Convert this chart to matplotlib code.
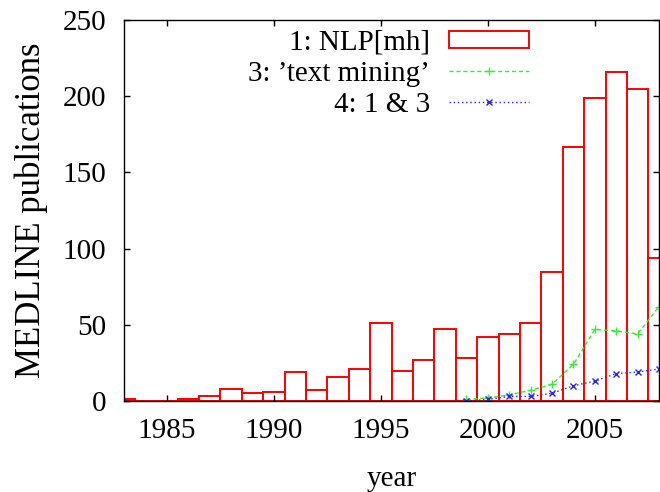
import matplotlib
matplotlib.use("Agg")
import matplotlib.pyplot as plt

years = list(range(1983, 2009))
nlp_mh = [1, 0, 0, 1, 3, 8, 5, 6, 19, 7, 16, 21, 51, 20, 27, 47, 28, 42, 44, 51,
          85, 167, 199, 216, 205, 94]

tm_years = list(range(1999, 2009))
text_mining = [1, 2, 4, 7, 11, 24, 47, 46, 44, 62]
both = [0, 1, 3, 3, 5, 10, 13, 18, 19, 21]

tick_years = [1985, 1990, 1995, 2000, 2005]
y_ticks = [0, 50, 100, 150, 200, 250]


def plot_medline():
    plt.rcParams["font.family"] = ["Liberation Serif", "DejaVu Serif"]
    plt.rcParams["font.size"] = 21

    fig = plt.figure(figsize=(6.6, 4.92), dpi=100)
    ax = fig.add_axes([0.1879, 0.185, 0.8106, 0.774])

    bars = ax.bar(years, nlp_mh, width=1.0, facecolor="white", edgecolor="red",
                  linewidth=1.4, label="1: NLP[mh]")
    tm_line, = ax.plot(tm_years, text_mining, color="#33ee33",
                       linestyle=(0, (3, 2)), linewidth=1, marker="+",
                       markersize=6, label="3: \u2019text mining\u2019")
    both_line, = ax.plot(tm_years, both, color="#2222ff",
                         linestyle=(0, (1, 2)), linewidth=1, marker="x",
                         markersize=5, label="4: 1 & 3")

    ax.set_xlim(1983, 2008)
    ax.set_ylim(0, 250)
    ax.set_xticks(tick_years)
    ax.set_yticks(y_ticks)
    ax.tick_params(direction="in", top=True, right=True, length=4, width=1)
    ax.tick_params(axis="x", pad=12)
    ax.tick_params(axis="y", pad=13)
    for s in ax.spines.values():
        s.set_linewidth(1)

    ax.set_xlabel("year", labelpad=16)
    ax.set_ylabel("MEDLINE publications", fontsize=25, labelpad=10)

    ax.legend(handles=[bars, tm_line, both_line], loc="upper right",
              bbox_to_anchor=(0.757, 0.975), frameon=False,
              markerfirst=False, handlelength=2.74, handleheight=0.53,
              labelspacing=0.17, handletextpad=0.65, borderpad=0,
              borderaxespad=0)

    fig.savefig("out.png", dpi=100)


def main():
    plot_medline()


if __name__ == "__main__":
    main()
